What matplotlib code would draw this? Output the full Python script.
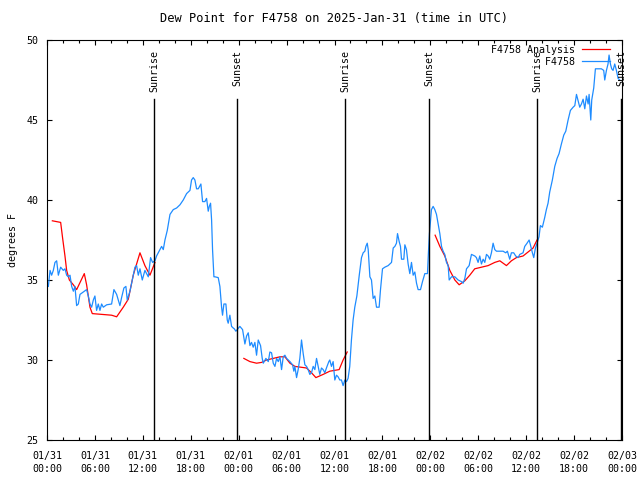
import numpy as np
import pandas as pd
import matplotlib
matplotlib.use("Agg")
import matplotlib.pyplot as plt
import matplotlib.dates as mdates

plt.rcParams['font.family'] = 'DejaVu Sans Mono'
plt.rcParams['font.size'] = 7.2

start = pd.Timestamp("2025-01-31 00:00")

# observed dew point (hours after start, deg F)
obs_hours = [0.17, 0.38, 0.58, 0.79, 1.0, 1.21, 1.42, 1.71, 2.04, 2.25, 2.46, 2.67, 2.88, 3.09, 3.3, 3.5,
             3.71, 3.92, 4.13, 4.55, 4.96, 5.17, 5.38, 5.59, 5.8, 6.0, 6.21, 6.42, 6.63, 6.84, 7.05, 7.47,
             8.09, 8.38, 8.72, 9.13, 9.34, 9.63, 9.88, 10.05, 10.39, 10.6, 10.8, 11.01, 11.22, 11.43, 11.64,
             11.93, 12.26, 12.47, 12.68, 12.97, 13.22, 13.52, 13.72, 14.14, 14.35, 14.56, 14.77, 15.06, 15.4,
             15.81, 16.23, 16.65, 17.06, 17.48, 17.9, 18.1, 18.31, 18.52, 18.73, 18.94, 19.15, 19.27, 19.48,
             19.77, 19.98, 20.19, 20.32, 20.48, 20.61, 20.73, 20.9, 21.02, 21.44, 21.65, 21.86, 21.98, 22.15,
             22.4, 22.57, 22.69, 22.9, 23.11, 23.32, 23.45, 23.65, 23.98,
             24.15, 24.49, 24.78, 24.99, 25.2, 25.41, 25.61, 25.82, 26.03, 26.24, 26.45, 26.74, 26.95, 27.08,
             27.41, 27.71, 27.91, 28.12, 28.33, 28.54, 28.75, 28.96, 29.17, 29.37, 29.58, 29.79, 30.0, 30.42,
             30.75, 30.91, 31.04, 31.25, 31.45, 31.66, 31.87, 32.08, 32.29, 32.5, 32.7, 32.91, 33.12, 33.33,
             33.54, 33.75, 33.95, 34.16, 34.37, 34.58, 34.79, 34.99, 35.29, 35.41, 35.62, 35.83, 36.04, 36.25,
             36.45, 36.66, 36.87, 37.08, 37.29, 37.5, 37.7, 37.91, 38.12, 38.33, 38.54, 38.8,
             39.1, 39.38, 39.59, 39.8, 39.93, 40.1, 40.22, 40.43, 40.63, 40.84, 41.05, 41.26, 41.59, 41.76,
             42.01, 42.3, 42.72, 43.14, 43.35, 43.56, 43.76, 43.89, 44.1, 44.26, 44.39, 44.68, 44.81, 45.01,
             45.22, 45.43, 45.64, 45.85, 46.06, 46.27, 46.47, 46.77, 47.02, 47.31, 47.64, 47.77, 47.89, 48.14,
             48.35, 48.56, 48.77, 48.98, 49.19, 49.4, 49.6, 49.81, 50.02, 50.23, 50.36, 50.65, 51.07, 51.48,
             51.9, 52.11, 52.32, 52.53, 52.86, 53.15, 53.57, 53.77, 53.98, 54.19, 54.4, 54.61, 54.82, 55.03,
             55.24, 55.44, 55.65, 55.86, 56.07, 56.28, 56.7, 57.11, 57.44, 57.65, 57.94, 58.15, 58.44, 58.69,
             58.99, 59.2, 59.61, 59.82, 60.11, 60.37, 60.53, 60.78, 60.95, 61.16, 61.36, 61.61, 61.78, 62.03,
             62.32, 62.53, 62.74, 62.95, 63.28, 63.58, 63.87, 64.12, 64.41, 64.71, 64.96, 65.25, 65.54, 65.88,
             66.09, 66.3, 66.51, 66.71, 66.92, 67.13, 67.34, 67.55, 67.76, 67.88, 68.09, 68.21, 68.46, 68.67,
             69.0, 69.42, 69.71, 69.84, 70.05, 70.25, 70.38, 70.55, 70.71, 70.88, 71.09, 71.3, 71.51, 71.72]
obs_values = [34.6, 35.6, 35.3, 35.6, 36.1, 36.2, 35.3, 35.8, 35.6, 35.7, 35.3, 35.2, 35.3, 34.6, 34.3, 34.6,
              33.4, 33.5, 34.1, 34.25, 34.4, 34.0, 33.5, 33.3, 33.75, 34.0, 33.1, 33.5, 33.1, 33.5, 33.3, 33.45,
              33.5, 34.4, 34.1, 33.4, 33.9, 34.5, 34.6, 33.75, 34.3, 34.8, 35.3, 35.8, 35.9, 35.3, 35.7,
              35.0, 35.6, 35.4, 35.2, 36.4, 36.1, 36.2, 36.5, 36.9, 37.1, 36.9, 37.5, 38.1, 39.1,
              39.4, 39.5, 39.7, 40.0, 40.4, 40.6, 41.25, 41.4, 41.25, 40.7, 40.7, 40.9, 41.0, 39.9,
              39.9, 40.1, 39.3, 39.6, 39.8, 38.75, 36.9, 35.2, 35.2, 35.15, 34.6, 33.3, 32.8, 33.5,
              33.5, 32.5, 32.3, 32.8, 32.1, 32.0, 31.95, 31.8, 32.0,
              32.1, 31.9, 31.0, 31.5, 31.7, 30.9, 31.1, 30.8, 31.1, 30.3, 31.25, 30.9, 30.1, 29.8,
              30.1, 29.9, 30.5, 30.45, 29.8, 29.6, 30.1, 29.9, 30.2, 29.4, 30.2, 30.3, 30.1, 29.9,
              29.7, 29.3, 29.6, 28.9, 29.4, 30.1, 31.25, 30.4, 29.7, 29.6, 29.4, 29.1, 29.2, 29.6,
              29.4, 30.1, 29.6, 29.1, 29.5, 29.4, 29.2, 29.5, 29.9, 30.0, 29.6, 29.9, 28.75, 29.05,
              28.95, 28.75, 28.75, 28.4, 28.75, 28.65, 28.85, 29.6, 31.25, 32.5, 33.3, 34.0,
              35.3, 36.4, 36.7, 36.8, 37.1, 37.3, 36.9, 35.2, 35.0, 33.85, 34.0, 33.3, 33.3, 34.4,
              35.7, 35.8, 35.9, 36.1, 37.0, 37.1, 37.3, 37.9, 37.4, 37.1, 36.3, 36.3, 37.2, 36.9,
              36.0, 35.4, 36.1, 35.3, 35.5, 34.8, 34.4, 34.4, 34.9, 35.4, 35.4, 36.8, 37.9, 39.4,
              39.6, 39.4, 39.1, 38.5, 37.9, 37.1, 36.8, 36.6, 36.1, 35.9, 35.0, 35.2, 35.2, 35.0,
              34.9, 34.8, 35.1, 35.7, 35.9, 36.6, 36.5, 36.4, 36.1, 36.5, 36.0, 36.3, 36.1, 36.6,
              36.5, 36.3, 36.7, 37.3, 36.9, 36.8, 36.8, 36.8, 36.7, 36.8, 36.3, 36.7, 36.7, 36.5,
              36.4, 36.6, 36.7, 37.1, 37.3, 37.5, 37.2, 36.7, 36.4, 37.0, 37.3, 37.7, 38.4, 38.3,
              38.9, 39.4, 39.8, 40.5, 41.25, 42.1, 42.6, 42.9, 43.5, 44.06, 44.3, 45.0, 45.6, 45.8,
              45.9, 46.6, 46.2, 45.8, 46.0, 46.3, 45.7, 46.5, 46.0, 46.6, 45.0, 46.25, 47.0, 48.2,
              48.2, 48.2, 48.1, 47.5, 48.1, 48.5, 49.06, 48.5, 48.2, 48.1, 48.5, 48.1, 47.6, 47.5]

# analysis segments (hours, deg F)
ana1_hours = [0.67, 1.71, 1.96, 2.25, 2.46, 2.8, 3.3, 3.71, 4.67, 4.96, 5.38, 5.67, 8.09, 8.72, 9.55,
              10.18, 10.8, 11.64, 12.26, 12.89, 13.52]
ana1_values = [38.7, 38.6, 37.6, 36.5, 35.6, 35.0, 34.7, 34.4, 35.4, 34.7, 33.3, 32.9, 32.8, 32.7, 33.3,
               33.8, 35.3, 36.7, 35.9, 35.3, 36.1]
ana2_hours = [24.65, 25.41, 26.24, 26.87, 27.49, 28.33, 29.17, 29.79, 30.42, 31.04, 32.5, 33.12, 33.67,
              34.58, 35.41, 36.58, 37.08, 37.59]
ana2_values = [30.1, 29.9, 29.8, 29.85, 30.0, 30.1, 30.2, 30.2, 29.8, 29.6, 29.5, 29.2, 28.9,
               29.1, 29.3, 29.4, 30.0, 30.5]
ana3_hours = [48.6, 49.19, 49.81, 50.44, 51.07, 51.61, 52.32, 52.94, 53.56, 54.4, 55.24, 56.07, 56.7,
              57.53, 58.15, 58.78, 59.61, 60.24, 60.87, 61.36]
ana3_values = [37.8, 37.1, 36.5, 35.6, 35.0, 34.7, 34.95, 35.3, 35.7, 35.8, 35.9, 36.1, 36.2,
               35.9, 36.2, 36.4, 36.5, 36.75, 37.0, 37.5]

sun_hours = [13.4, 23.82, 37.37, 47.85, 61.37, 71.9]
sun_labels = ["Sunrise", "Sunset", "Sunrise", "Sunset", "Sunrise", "Sunset"]


def to_time(h):
    return start + pd.to_timedelta(np.array(h), unit="h")


fig = plt.figure(figsize=(6.4, 4.8), dpi=100)
ax = fig.add_axes([47 / 640, 40 / 480, 575 / 640, 400 / 480])

red = "#ff0000"
blue = "#1e8cff"
for i, (hh, vv) in enumerate([(ana1_hours, ana1_values), (ana2_hours, ana2_values), (ana3_hours, ana3_values)]):
    ax.plot(to_time(hh), vv, color=red, lw=0.9, label="F4758 Analysis" if i == 0 else None)
# monospace font: pad so the legend labels line up on the right like gnuplot
ax.plot(to_time(obs_hours), obs_values, color=blue, lw=0.9, label="F4758".rjust(14))

trans = ax.get_xaxis_transform()
for h, lab in zip(sun_hours, sun_labels):
    t = to_time([h])[0]
    ax.axvline(t, ymin=0, ymax=0.8525, color="black", lw=1.0)
    ax.text(t, 0.975, lab, transform=trans, rotation=90, ha="center", va="top")

ax.set_xlim(start, start + pd.Timedelta(hours=72))
ax.set_ylim(25, 50)
ax.set_yticks([25, 30, 35, 40, 45, 50])
ax.xaxis.set_major_locator(mdates.HourLocator(byhour=[0, 6, 12, 18]))
ax.xaxis.set_minor_locator(mdates.HourLocator(interval=2))
ax.xaxis.set_major_formatter(mdates.DateFormatter("%m/%d\n%H:%M"))
ax.tick_params(which="both", direction="in", top=True, right=True, width=0.8)
ax.tick_params(which="major", length=3.3)
ax.tick_params(which="minor", length=2.0)
ax.tick_params(axis="y", pad=6)
ax.tick_params(axis="x", pad=8)
for lab in ax.get_xticklabels():
    lab.set_linespacing(1.35)
for s in ax.spines.values():
    s.set_linewidth(0.8)

ax.set_ylabel("degrees F", labelpad=6)
ax.set_title("Dew Point for F4758 on 2025-Jan-31 (time in UTC)", pad=13)

ax.legend(loc="upper right", bbox_to_anchor=(0.979, 0.9875), frameon=False, markerfirst=False,
          handlelength=2.8, handletextpad=0.7, borderaxespad=0.0, borderpad=0.0, labelspacing=0.2)

fig.savefig("out.png", dpi=100)
